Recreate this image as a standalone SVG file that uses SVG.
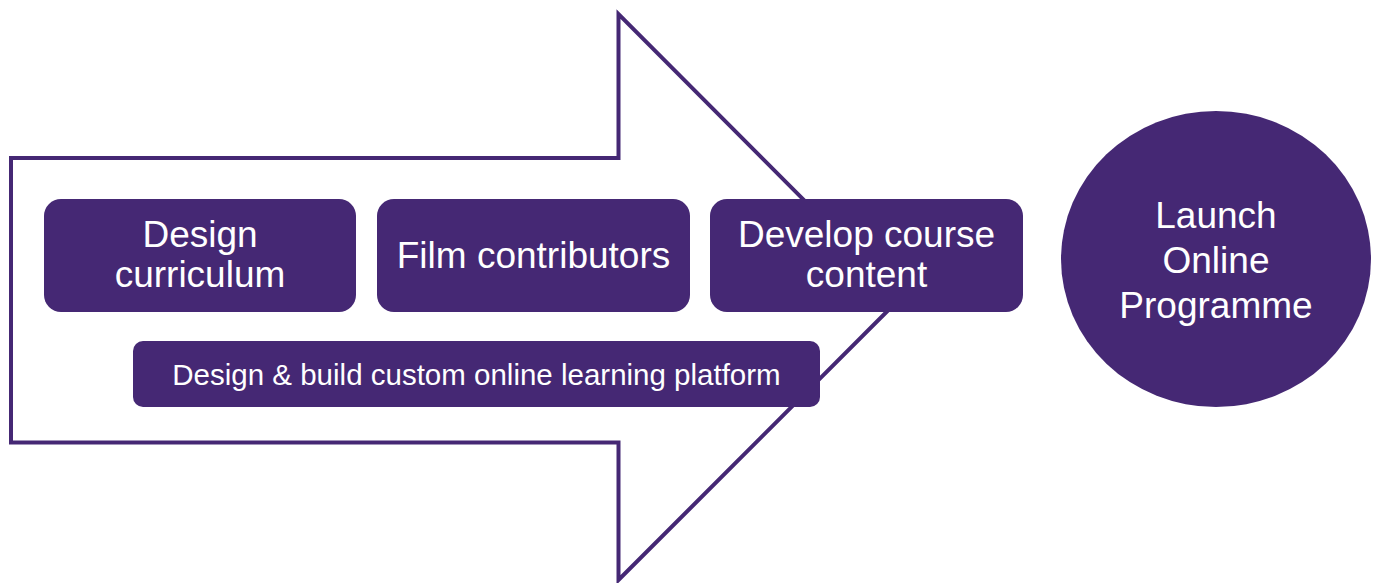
<svg xmlns="http://www.w3.org/2000/svg" width="1376" height="583" viewBox="0 0 1376 583">
<style>
.box{fill:#452874}
.t{fill:#ffffff;font-family:"Liberation Sans",Arial,sans-serif;text-anchor:middle}
.big{font-size:37px}
.small{font-size:29.5px}
</style>
<rect width="1376" height="583" fill="#ffffff"/>
<g id="arrow">
<path d="M11,158 H618.5 V14 L901,297.5 L618.5,580 V442.5 H11 Z" fill="none" stroke="#452874" stroke-width="4" stroke-linejoin="miter"/>
</g>
<g id="connectors"></g>
<g id="design-curriculum">
<rect class="box" x="44" y="199" width="312" height="113" rx="17"/>
<text class="t big" x="200" y="247">Design</text>
<text class="t big" x="200" y="287">curriculum</text>
</g>
<g id="film-contributors">
<rect class="box" x="377" y="199" width="313" height="113" rx="17"/>
<text class="t big" x="533.5" y="268">Film contributors</text>
</g>
<g id="develop-course-content">
<rect class="box" x="710" y="199" width="313" height="113" rx="17"/>
<text class="t big" x="866.5" y="247">Develop course</text>
<text class="t big" x="866.5" y="287">content</text>
</g>
<g id="platform">
<rect class="box" x="133" y="341" width="687" height="66" rx="10"/>
<text class="t small" x="476.5" y="385">Design &amp; build custom online learning platform</text>
</g>
<g id="launch">
<ellipse class="box" cx="1216" cy="259" rx="155" ry="148"/>
<text class="t big" x="1216" y="228">Launch</text>
<text class="t big" x="1216" y="273">Online</text>
<text class="t big" x="1216" y="318">Programme</text>
</g>
</svg>
